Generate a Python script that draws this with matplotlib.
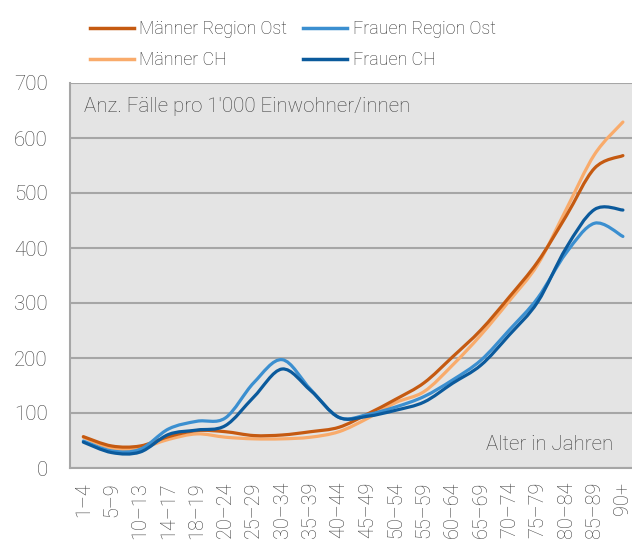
import matplotlib
matplotlib.use("Agg")
import matplotlib.pyplot as plt
from matplotlib.path import Path
from matplotlib.patches import PathPatch
from matplotlib.lines import Line2D
import numpy as np

plt.rcParams['font.family'] = ['Roboto', 'DejaVu Sans']
plt.rcParams['font.weight'] = 'light'

# Altersgruppen
labels = ['1–4', '5–9', '10–13', '14–17', '18–19', '20–24', '25–29', '30–34', '35–39', '40–44',
          '45–49', '50–54', '55–59', '60–64', '65–69', '70–74', '75–79', '80–84', '85–89', '90+']

# Anz. Fälle pro 1'000 Einwohner/innen
maenner_ost = [57, 40, 40, 57, 68, 66, 59, 60, 66, 74, 98, 125, 155, 202, 251, 311, 375, 458, 545, 568]
maenner_ch = [56, 36, 36, 52, 62, 56, 53, 53, 56, 66, 90, 119, 139, 187, 242, 304, 370, 470, 570, 629]
frauen_ost = [49, 31, 34, 71, 85, 91, 155, 197, 143, 92, 97, 111, 130, 160, 196, 251, 309, 391, 445, 421]
frauen_ch = [47, 28, 29, 61, 69, 77, 129, 180, 141, 92, 94, 105, 120, 154, 187, 242, 302, 400, 470, 469]

series = [
    ('Männer Region Ost', maenner_ost, '#c55a11'),
    ('Männer CH', maenner_ch, '#f9ab6b'),
    ('Frauen Region Ost', frauen_ost, '#3b8fd0'),
    ('Frauen CH', frauen_ch, '#0b5a9c'),
]
# Zeichenreihenfolge (wie im Original)
draw_order = [1, 0, 2, 3]


# geglättete Linie wie in Excel (Catmull-Rom als Bezier)
def smooth_path(xs, ys):
    pts = np.column_stack([xs, ys]).astype(float)
    pad = np.vstack([pts[0], pts, pts[-1]])
    verts = [pts[0]]
    codes = [Path.MOVETO]
    for i in range(len(pts) - 1):
        p0, p1, p2, p3 = pad[i], pad[i + 1], pad[i + 2], pad[i + 3]
        c1 = p1 + (p2 - p0) / 6.0
        c2 = p2 - (p3 - p1) / 6.0
        verts += [c1, c2, p2]
        codes += [Path.CURVE4] * 3
    return Path(verts, codes)


fig = plt.figure(figsize=(6.32, 5.56), dpi=100)
ax = fig.add_axes([70 / 632, 88 / 556, 562 / 632, 385 / 556])
ax.set_facecolor('#e4e4e4')

x = np.arange(len(labels))
for k in draw_order:
    name, vals, col = series[k]
    ax.add_patch(PathPatch(smooth_path(x, vals), fill=False, edgecolor=col, lw=2.3,
                           capstyle='round', joinstyle='round', zorder=3))

ax.set_xlim(-0.47, 19.32)
ax.set_ylim(0, 700)
ax.set_yticks(range(0, 701, 100))
ax.set_xticks(x)
ax.set_xticklabels(labels, rotation=90, fontsize=14.3, color='#404040')
ax.tick_params(axis='y', labelsize=14.8, labelcolor='#404040', length=0, pad=16)
ax.tick_params(axis='x', length=0, pad=10)

ax.yaxis.grid(True, color='#a6a6a6', lw=1.5, zorder=1)
ax.set_axisbelow(True)
for side in ['top', 'right']:
    ax.spines[side].set_visible(False)
for side in ['left', 'bottom']:
    ax.spines[side].set_color('#a6a6a6')
    ax.spines[side].set_linewidth(1.5)

ax.text(0.025, 0.94, "Anz. Fälle pro 1'000 Einwohner/innen", transform=ax.transAxes,
        fontsize=14.8, color='#404040', va='center', ha='left')
ax.text(0.967, 0.06, 'Alter in Jahren', transform=ax.transAxes,
        fontsize=14.8, color='#404040', va='center', ha='right')

handles = [Line2D([], [], color=col, lw=2.5) for _, _, col in series]
names = [name for name, _, _ in series]
fig.legend(handles, names, ncol=2, frameon=False, loc='upper left',
           bbox_to_anchor=(81 / 632, 1 - 11 / 556), fontsize=12.9,
           handlelength=2.45, handletextpad=0.3, columnspacing=0.9,
           labelspacing=0.75, borderpad=0, labelcolor='#333333')

fig.savefig('out.png', dpi=100)
